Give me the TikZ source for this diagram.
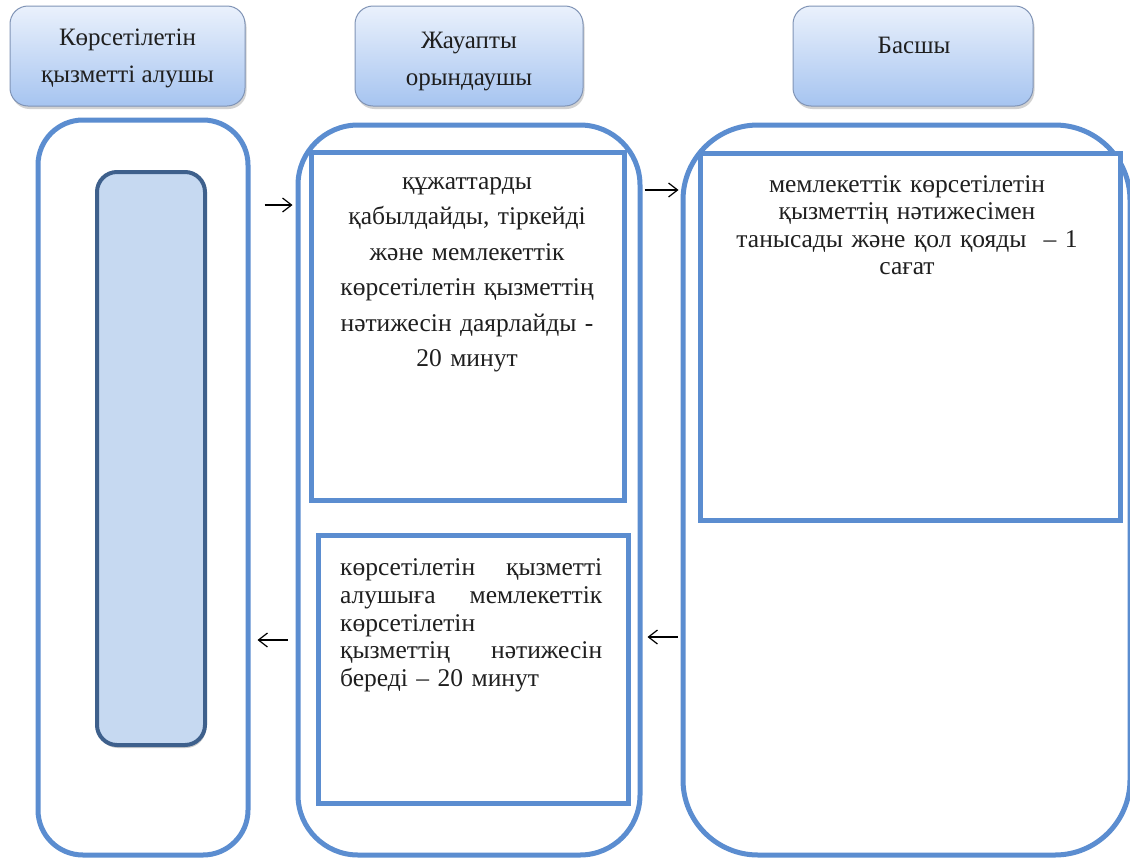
\documentclass[tikz,border=0pt]{standalone}
\usepackage{fontspec}
\setmainfont{Liberation Serif}
\usetikzlibrary{shadows,arrows.meta}
\definecolor{lanecol}{RGB}{91,141,208}
\definecolor{hdrtop}{RGB}{234,241,252}
\definecolor{hdrbot}{RGB}{166,196,240}
\definecolor{hdrline}{RGB}{128,148,182}
\definecolor{pillfill}{RGB}{198,217,241}
\definecolor{pillline}{RGB}{62,96,140}
\begin{document}
\begin{tikzpicture}[x=1pt,y=-1pt,
  header/.style={draw=hdrline, line width=1pt, rounded corners=18pt,
    top color=hdrtop, bottom color=hdrbot, inner sep=0pt,
    drop shadow={shadow xshift=1.5pt, shadow yshift=-3pt, opacity=0.35},
    align=center, font=\fontsize{25}{37}\selectfont, text=black!88},
  lanebox/.style={draw=lanecol, line width=5pt, inner sep=0pt, fill=white},
  stepbox/.style={draw=lanecol, line width=5pt, inner sep=0pt, fill=white},
  pill/.style={draw=pillline, line width=4pt, fill=pillfill, rounded corners=20pt,
    inner sep=0pt, drop shadow={shadow xshift=1pt, shadow yshift=-3pt, opacity=0.4}},
  conn/.style={draw=black, line width=1.2pt, -{Straight Barb[length=9pt,width=14pt]}},
  txt/.style={inner sep=0pt, text=black!88}
]
\useasboundingbox (0,0) rectangle (1130,857);
\fill[white] (0,0) rectangle (1130,857);

% headers
\node[header, minimum width=235pt, minimum height=100pt] (hdrA) at (127.5,56)
  {\rule{0pt}{21pt}Көрсетілетін\\қызметті алушы};
\node[header, minimum width=228pt, minimum height=100pt] (hdrB) at (469,56)
  {\rule{0pt}{27pt}Жауапты\\орындаушы};
\node[header, minimum width=240pt, minimum height=100pt] (hdrC) at (913,56) {};
\node[txt, font=\fontsize{25}{37}\selectfont] (hdrCtext) at (914,45) {Басшы};

% lanes
\node[lanebox, rounded corners=45pt, minimum width=210pt, minimum height=735pt] (laneA) at (143,487.5) {};
\node[lanebox, rounded corners=60pt, minimum width=342pt, minimum height=730pt] (laneB) at (469,490) {};
\node[lanebox, rounded corners=75pt, minimum width=447pt, minimum height=730pt] (laneC) at (906.5,490) {};

% inner boxes
\node[pill, minimum width=108pt, minimum height=573pt] (pillA) at (151,458.5) {};
\node[stepbox, minimum width=313pt, minimum height=348pt] (boxB1) at (467.5,326) {};
\node[stepbox, minimum width=310pt, minimum height=268pt] (boxB2) at (473,669) {};
\node[stepbox, minimum width=420pt, minimum height=367pt] (boxC1) at (910,336.5) {};

% texts
\node[txt, anchor=north, text width=305pt, align=center, font=\fontsize{25.5}{35.5}\selectfont]
  (textB1) at (467,177)
  {құжаттарды\\ қабылдайды, тіркейді\\ және мемлекеттік\\ көрсетілетін қызметтің\\ нәтижесін даярлайды -\\ 20 минут};
\node[txt, anchor=north, text width=410pt, align=center, font=\fontsize{25.5}{27.3}\selectfont]
  (textC1) at (907,175.5)
  {мемлекеттік көрсетілетін\\ қызметтің нәтижесімен\\ танысады және қол қояды \ – 1\\ сағат};
\node[txt, anchor=north west, text width=262pt, align=left, font=\fontsize{25.5}{27.8}\selectfont]
  (textB2) at (340,558.5)
  {көрсетілетін\hfill қызметті\\ алушыға\hfill мемлекеттік\\ көрсетілетін\\ қызметтің\hfill нәтижесін\\ береді – 20 минут};

% connector rows
\coordinate (r1) at (0,205);
\coordinate (r2) at (0,190);
\coordinate (r3) at (0,640);
\coordinate (r4) at (0,637);

\draw[conn, shorten <=14pt, shorten >=3pt] (laneA.east |- r1) -- (laneB.west |- r1);
\draw[conn, shorten <=2pt, shorten >=2pt] (laneB.east |- r2) -- (laneC.west |- r2);
\draw[conn, shorten <=8pt, shorten >=7pt] (laneB.west |- r3) -- (laneA.east |- r3);
\draw[conn, shorten <=3pt, shorten >=5pt] (laneC.west |- r4) -- (laneB.east |- r4);
\end{tikzpicture}
\end{document}
